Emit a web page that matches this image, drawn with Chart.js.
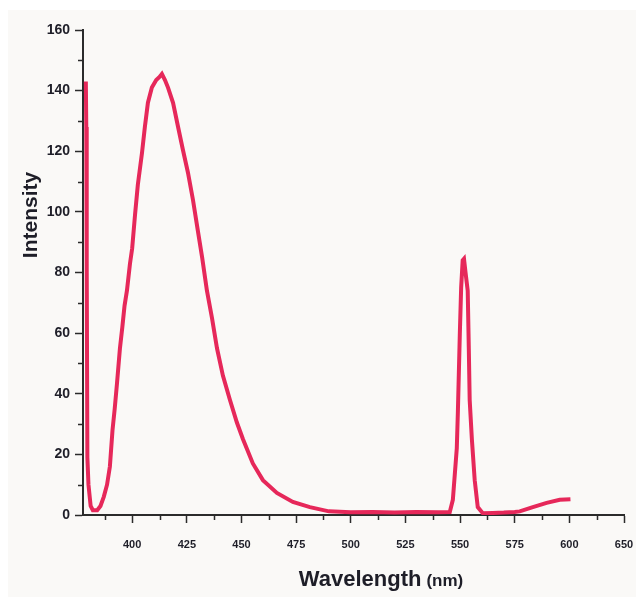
<!DOCTYPE html>
<html>
<head>
<meta charset="utf-8">
<script src="https://cdn.jsdelivr.net/npm/chart.js@4.4.1/dist/chart.umd.min.js"></script>
<style>
  html, body { margin: 0; padding: 0; background: #fff; }
  .chart { position: absolute; left: 8px; top: 10px; width: 628px; height: 587px; background: #faf9f7; }
</style>
</head>
<body>
<div class="chart"><canvas id="spectrum"></canvas></div>
<script>
// values
const wavelength = [
  378.8, 379.0, 379.2, 379.5, 380.0, 381.0, 382.0, 384.0, 385.5, 387.0,
  388.5, 389.8, 391.0, 392.0, 393.0, 394.4, 395.5, 396.5, 397.6, 399.0,
  400.0, 401.3, 402.6, 404.5, 405.8, 407.2, 409.0, 411.0, 412.5, 413.6,
  415.0, 416.4, 418.7, 421.0, 423.2, 425.5, 427.8, 430.0, 432.0, 434.2,
  436.5, 438.8, 441.5, 444.7, 447.9, 450.7, 455.2, 459.8, 466.2, 473.5,
  481.3, 490.0, 500.0, 510.0, 520.0, 530.0, 540.0, 545.3, 546.7, 548.5,
  549.0, 549.9, 550.5, 551.2, 551.8, 552.5, 553.5, 554.0, 554.4, 555.4,
  556.7, 558.1, 560.4, 565.0, 570.0, 575.0, 577.3, 583.3, 589.6, 595.6,
  600.5
];
const intensity = [
  143, 128, 82, 19, 10, 3, 1.6, 1.6, 3, 6,
  10, 16, 28, 35, 43, 55, 62, 69, 74, 83,
  88, 99, 109, 119.5, 128, 136, 141, 143.5, 144.5, 145.5,
  143.5, 141, 136, 128, 120.5, 113, 104, 94, 85, 74,
  65, 55, 46, 38, 30.5, 25, 17, 11.5, 7.3, 4.3,
  2.6, 1.2, 0.9, 1, 0.8, 1, 0.9, 1, 5, 22,
  34, 60, 75, 84, 84.5, 80, 74, 55, 38, 25,
  11.5, 2.6, 0.6, 0.7, 0.8, 1, 1.2, 2.6, 4, 5,
  5.2
];

const xTicks = [400, 425, 450, 475, 500, 525, 550, 575, 600, 625];
const xTickLabels = ['400', '425', '450', '475', '500', '525', '550', '575', '600', '650'];
const yTicks = [0, 20, 40, 60, 80, 100, 120, 140, 160];

const axisColor = '#2b2b2b';
const textColor = '#1e1e28';

// small ticks half way between the labelled ones
const minorTicks = {
  id: 'minorTicks',
  afterDraw(chart) {
    const { ctx, chartArea, scales } = chart;
    ctx.save();
    ctx.strokeStyle = axisColor;
    ctx.lineWidth = 1.5;
    ctx.beginPath();
    const xs = [xTicks[0] - 12.5].concat(xTicks.slice(0, -1).map(v => v + 12.5));
    xs.forEach(v => {
      const px = Math.round(scales.x.getPixelForValue(v)) + 0.5;
      ctx.moveTo(px, chartArea.bottom);
      ctx.lineTo(px, chartArea.bottom + 5);
    });
    yTicks.slice(0, -1).forEach(v => {
      const py = Math.round(scales.y.getPixelForValue(v + 10)) + 0.5;
      ctx.moveTo(chartArea.left, py);
      ctx.lineTo(chartArea.left - 5, py);
    });
    ctx.stroke();
    ctx.restore();
  }
};

// axis titles (the "(nm)" part is set smaller than the word)
const axisTitles = {
  id: 'axisTitles',
  afterDraw(chart) {
    const { ctx, chartArea } = chart;
    ctx.save();
    ctx.fillStyle = textColor;
    ctx.textBaseline = 'alphabetic';

    ctx.font = 'bold 22px "Liberation Sans", Arial, sans-serif';
    const word = 'Wavelength';
    const unit = '(nm)';
    const w1 = ctx.measureText(word).width;
    ctx.font = 'bold 17px "Liberation Sans", Arial, sans-serif';
    const w2 = ctx.measureText(unit).width;
    const gap = 5;
    const cx = chartArea.left + 298;
    let x0 = cx - (w1 + gap + w2) / 2;
    const base = chartArea.bottom + 71;
    ctx.font = 'bold 22px "Liberation Sans", Arial, sans-serif';
    ctx.fillText(word, x0, base);
    ctx.font = 'bold 17px "Liberation Sans", Arial, sans-serif';
    ctx.fillText(unit, x0 + w1 + gap, base);

    ctx.translate(chartArea.left - 46, chartArea.top + 185);
    ctx.rotate(-Math.PI / 2);
    ctx.textAlign = 'center';
    ctx.font = 'bold 21px "Liberation Sans", Arial, sans-serif';
    ctx.fillText('Intensity', 0, 0);
    ctx.restore();
  }
};

const ctx = document.getElementById('spectrum');

new Chart(ctx, {
  type: 'line',
  data: {
    datasets: [{
      data: wavelength.map((w, i) => ({ x: w, y: intensity[i] })),
      borderColor: '#e6285a',
      borderWidth: 4,
      pointRadius: 0,
      tension: 0,
      fill: false
    }]
  },
  options: {
    responsive: true,
    maintainAspectRatio: false,
    animation: false,
    layout: {
      padding: { left: 0, top: 20, right: 12, bottom: 0 }
    },
    scales: {
      x: {
        type: 'linear',
        min: 377.5,
        max: 625,
        afterBuildTicks: s => { s.ticks = xTicks.map(v => ({ value: v })); },
        afterFit: s => { s.height = 82; s.paddingLeft = 0; s.paddingRight = 0; },
        border: { color: axisColor, width: 2 },
        grid: { drawOnChartArea: false, tickLength: 8, tickColor: axisColor, tickWidth: 1.5 },
        ticks: {
          autoSkip: false,
          maxRotation: 0,
          padding: 15,
          color: textColor,
          font: { family: '"Liberation Sans", Arial, sans-serif', size: 11, weight: 'bold' },
          callback: (v, i) => xTickLabels[i]
        }
      },
      y: {
        min: 0,
        max: 160,
        afterBuildTicks: s => { s.ticks = yTicks.map(v => ({ value: v })); },
        afterFit: s => { s.width = 75; s.paddingTop = 0; s.paddingBottom = 0; },
        border: { color: axisColor, width: 2 },
        grid: { drawOnChartArea: false, tickLength: 8, tickColor: axisColor, tickWidth: 1.5 },
        ticks: {
          padding: 5,
          color: textColor,
          font: { family: '"Liberation Sans", Arial, sans-serif', size: 14, weight: 'bold' }
        }
      }
    },
    plugins: {
      legend: { display: false },
      tooltip: { enabled: false }
    }
  },
  plugins: [minorTicks, axisTitles]
});
</script>
</body>
</html>
